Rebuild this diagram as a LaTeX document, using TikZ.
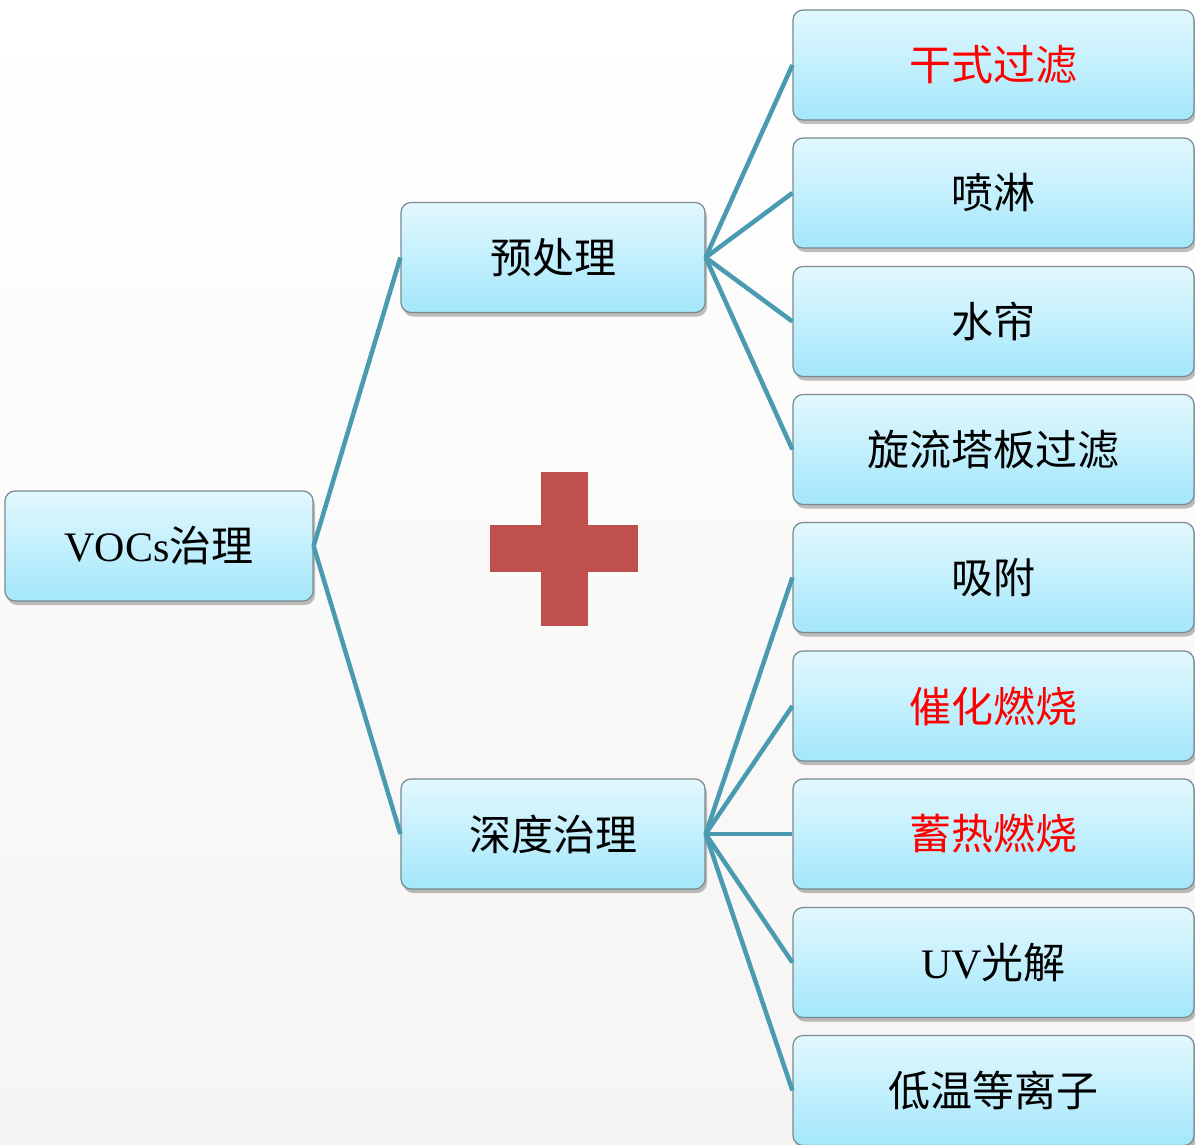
\documentclass[tikz,border=0pt]{standalone}
\usepackage{fontspec}
\setmainfont{Liberation Serif}
\newfontfamily\cjk{Noto Sans CJK SC}
\usetikzlibrary{shadows}
\definecolor{linec}{HTML}{4A9BB1}
\definecolor{boxtop}{HTML}{E2F8FE}
\definecolor{boxbot}{HTML}{A4E7FB}
\definecolor{boxline}{HTML}{7A8A90}
\definecolor{plusc}{HTML}{C0504D}
\definecolor{hl}{HTML}{FF0000}
\tikzset{
  box/.style={draw=boxline, line width=1.2pt, rounded corners=10pt,
    top color=boxtop, bottom color=boxbot, font=\fontsize{42}{46}\selectfont\cjk,
    inner sep=0pt, align=center,
    drop shadow={shadow xshift=2pt, shadow yshift=-4pt, fill=black, opacity=0.25}},
  midbox/.style={box, minimum width=304pt, minimum height=110pt},
  leafbox/.style={box, minimum width=401pt, minimum height=110pt},
  conn/.style={draw=linec, line width=4.5pt}
}
\begin{document}
\begin{tikzpicture}[x=1pt,y=-1pt]
\fill[top color=white, bottom color={rgb,255:red,246;green,245;blue,243}] (0,0) rectangle (1195,1145);
\useasboundingbox (0,0) rectangle (1195,1145);
% plus sign
\fill[plusc] (541,472) rectangle (588,626);
\fill[plusc] (490,525) rectangle (638,572);
% nodes
\node[box, minimum width=308pt, minimum height=110pt] (root) at (159,546) {{\rmfamily VOCs}治理};
\node[midbox] (pre) at (553,257.5) {预处理};
\node[midbox] (deep) at (553,834) {深度治理};
\node[leafbox] (a1) at (993.5,65) {\color{hl}干式过滤};
\node[leafbox] (a2) at (993.5,193) {喷淋};
\node[leafbox] (a3) at (993.5,321.5) {水帘};
\node[leafbox] (a4) at (993.5,449.5) {旋流塔板过滤};
\node[leafbox] (b1) at (993.5,577.5) {吸附};
\node[leafbox] (b2) at (993.5,706) {\color{hl}催化燃烧};
\node[leafbox] (b3) at (993.5,834) {\color{hl}蓄热燃烧};
\node[leafbox] (b4) at (993.5,962.5) {{\rmfamily UV}光解};
\node[leafbox] (b5) at (993.5,1090.5) {低温等离子};
% connectors
\path[conn] (root.east) -- (pre.west);
\path[conn] (root.east) -- (deep.west);
\foreach \n in {a1,a2,a3,a4} \path[conn] (pre.east) -- (\n.west);
\foreach \n in {b1,b2,b3,b4,b5} \path[conn] (deep.east) -- (\n.west);
\end{tikzpicture}
\end{document}
